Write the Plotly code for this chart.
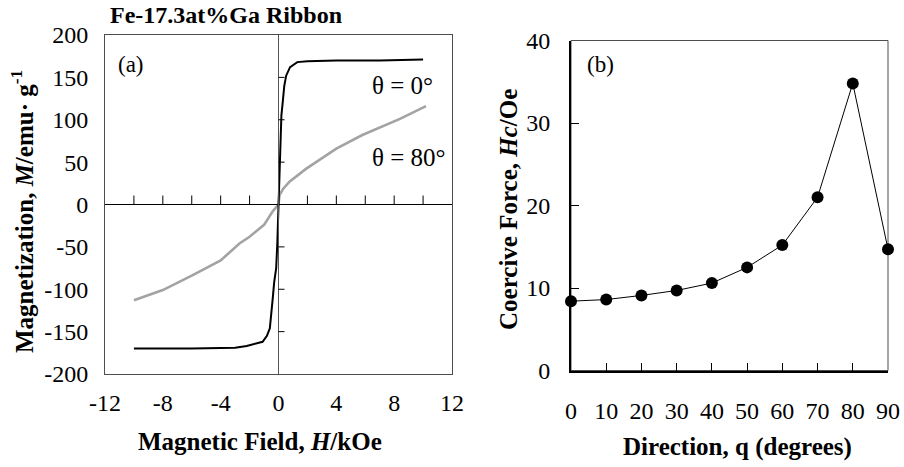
import plotly.graph_objects as go

# ---------------- data ----------------
# (a) hysteresis, theta = 0 deg
H_0deg = [-10, -6, -3, -2.2, -1.1, -0.8, -0.6, -0.45, -0.4, -0.3, -0.16, -0.08, 0,
          0.08, 0.15, 0.2, 0.3, 0.4, 0.53, 0.8, 1.3, 2, 4, 7, 10]
M_0deg = [-170, -170, -169, -167, -162, -155, -146, -125, -111, -92, -75, -45, 0,
          55, 90, 105, 122, 140, 152, 162, 168, 169, 170, 170, 171]
# (a) theta = 80 deg
H_80deg = [-10, -8, -6, -4, -2.7, -2, -1, -0.4, -0.15, 0, 0.07, 0.3, 0.76, 1.9, 4, 5.8, 8.4, 10.2]
M_80deg = [-113, -101, -84, -66, -46, -38, -24, -8, -3, 0, 11, 18, 27, 42, 66, 82, 101, 116]
# (b) coercive force vs direction
angle_deg = [0, 10, 20, 30, 40, 50, 60, 70, 80, 90]
hc_oe = [8.4, 8.6, 9.1, 9.7, 10.6, 12.5, 15.2, 21.0, 34.8, 14.7]

a_xtick_labels = [-12, -8, -4, 0, 4, 8, 12]
a_xminor = [-10, -8, -6, -4, -2, 2, 4, 6, 8, 10]
a_yticks = [-200, -150, -100, -50, 0, 50, 100, 150, 200]
b_xticks = [0, 10, 20, 30, 40, 50, 60, 70, 80, 90]
b_yticks = [0, 10, 20, 30, 40]

W, Hgt = 904, 467
FONT = "Liberation Serif"

def px(x):
    return x / W

def py(y):
    return 1 - y / Hgt

fig = go.Figure()

fig.add_trace(go.Scatter(x=H_80deg, y=M_80deg, mode="lines",
                         line=dict(color="#a3a3a3", width=2.6),
                         xaxis="x", yaxis="y", showlegend=False))
fig.add_trace(go.Scatter(x=H_0deg, y=M_0deg, mode="lines",
                         line=dict(color="black", width=2),
                         xaxis="x", yaxis="y", showlegend=False))
fig.add_trace(go.Scatter(x=angle_deg, y=hc_oe, mode="lines+markers",
                         line=dict(color="black", width=1),
                         marker=dict(color="black", size=12),
                         cliponaxis=False,
                         xaxis="x2", yaxis="y2", showlegend=False))

tickfont = dict(family=FONT, size=24, color="black")

fig.update_layout(
    width=W, height=Hgt,
    margin=dict(l=0, r=0, t=0, b=0, autoexpand=False),
    paper_bgcolor="white", plot_bgcolor="white",
    xaxis=dict(domain=[px(105), px(452)], range=[-12, 12],
               tickvals=a_xtick_labels, ticktext=[str(v) for v in a_xtick_labels],
               ticks="", tickfont=tickfont,
               showgrid=False, zeroline=False,
               showline=True, mirror=True, linecolor="#4d4d4d", linewidth=1,
               ticklabelstandoff=7, anchor="y"),
    yaxis=dict(domain=[py(374), py(35)], range=[-200, 200],
               tickvals=a_yticks, ticktext=[str(v) for v in a_yticks],
               ticks="", tickfont=tickfont,
               showgrid=False, zeroline=False,
               showline=True, mirror=True, linecolor="#4d4d4d", linewidth=1,
               ticklabelstandoff=11, anchor="x"),
    xaxis2=dict(domain=[px(571), px(888)], range=[0, 90],
                tickvals=b_xticks, ticktext=[str(v) for v in b_xticks],
                ticks="inside", ticklen=8, tickcolor="black",
                tickwidth=1, tickfont=tickfont,
                showgrid=False, zeroline=False,
                showline=True, linecolor="black", linewidth=2,
                ticklabelstandoff=18, anchor="y2"),
    yaxis2=dict(domain=[py(370.5), py(40.5)], range=[0, 40],
                tickvals=b_yticks, ticktext=[str(v) for v in b_yticks],
                ticks="inside", ticklen=8, tickcolor="black",
                tickwidth=1, tickfont=tickfont,
                showgrid=False, zeroline=False,
                showline=True, linecolor="black", linewidth=2,
                ticklabelstandoff=14, anchor="x2"),
)

shapes = []
shapes.append(dict(type="rect", xref="x2 domain", yref="y2 domain",
                   x0=0, x1=1, y0=0, y1=1, line=dict(color="#4d4d4d", width=1),
                   layer="below"))
shapes.append(dict(type="line", xref="x", yref="y", x0=-12, x1=12, y0=0, y1=0,
                   line=dict(color="black", width=1)))
shapes.append(dict(type="line", xref="x", yref="y", x0=0, x1=0, y0=-200, y1=200,
                   line=dict(color="#555555", width=1)))
for t in a_xminor:
    shapes.append(dict(type="line", xref="x", yref="y", ysizemode="pixel", yanchor=0,
                       x0=t, x1=t, y0=0, y1=9, line=dict(color="black", width=1)))
for t in a_yticks:
    if abs(t) in (0, 200):
        continue
    shapes.append(dict(type="line", xref="x", yref="y", xsizemode="pixel", xanchor=0,
                       x0=0, x1=6, y0=t, y1=t, line=dict(color="black", width=1)))
fig.update_layout(shapes=shapes)

def note(text, x, y, size, xanchor="center", angle=0):
    return dict(text=text, xref="paper", yref="paper", x=px(x), y=py(y),
                xanchor=xanchor, yanchor="middle", textangle=angle,
                showarrow=False, font=dict(family=FONT, size=size, color="black"))

ann = [
    note("<b>Fe-17.3at%Ga Ribbon</b>", 226, 15, 24),
    note("<b>Magnetization, <i>M</i>/emu· g<sup>-1</sup></b>", 22, 212, 25, angle=-90),
    note("<b>Magnetic Field, <i>H</i>/kOe</b>", 260, 441, 25),
    note("<b>Coercive Force, <i>Hc</i>/Oe</b>", 508, 210, 25, angle=-90),
    note("<b>Direction, q (degrees)</b>", 737, 447, 25),
    note("(a)", 131, 64, 23),
    note("(b)", 600, 64, 23),
    note("θ = 0°", 370, 85, 25, xanchor="left"),
    note("θ = 80°", 370, 157, 25, xanchor="left"),
]
fig.update_layout(annotations=ann)

fig.write_html("out.html", config={"displayModeBar": False},
               post_script="document.body.style.margin='0';")
